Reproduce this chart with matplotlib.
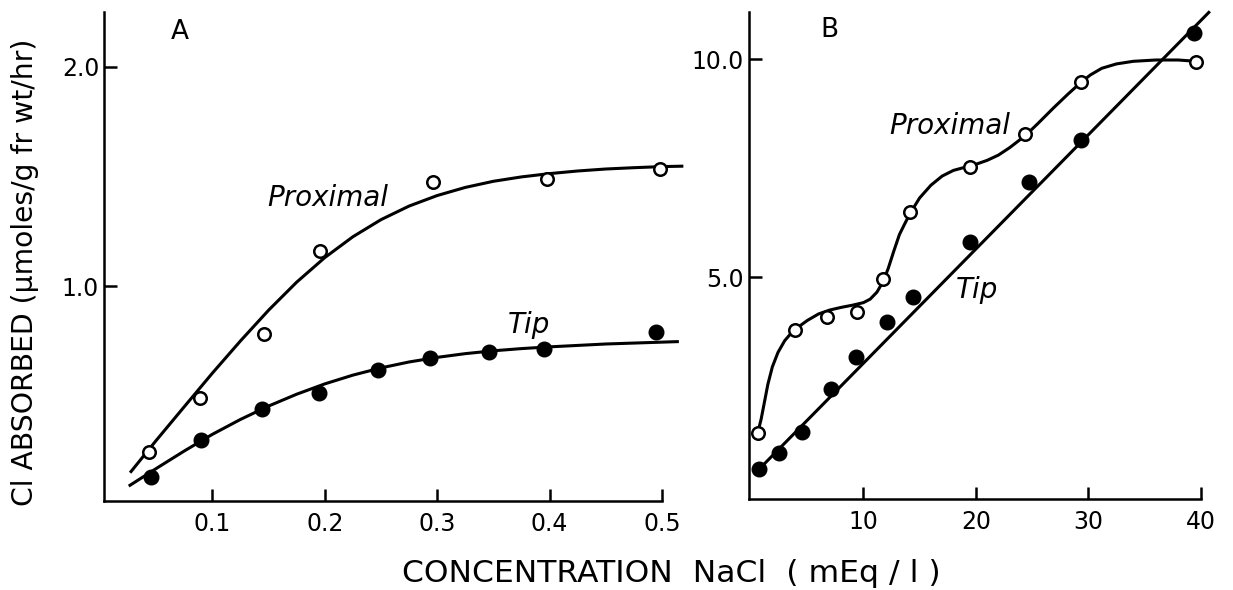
import matplotlib
matplotlib.use('Agg')
import matplotlib.pyplot as plt

plt.rcParams['font.family'] = ['DejaVu Sans']

# ---------------- Data: panel A (concentration 0-0.5 mEq/l) ----------------
a_prox_x = [0.044, 0.089, 0.146, 0.196, 0.296, 0.398, 0.4985]
a_prox_y = [0.244, 0.488, 0.780, 1.160, 1.474, 1.488, 1.534]
a_tip_x = [0.045, 0.090, 0.1446, 0.195, 0.247, 0.294, 0.346, 0.395, 0.495]
a_tip_y = [0.128, 0.298, 0.438, 0.513, 0.617, 0.673, 0.698, 0.711, 0.789]

# hand-drawn curves in panel A
a_prox_curve_x = [0.0268, 0.05, 0.075, 0.10, 0.125, 0.15, 0.175, 0.20, 0.225,
                  0.25, 0.275, 0.30, 0.325, 0.35, 0.375, 0.40, 0.425, 0.45,
                  0.475, 0.50, 0.519]
a_prox_curve_y = [0.149, 0.296, 0.450, 0.603, 0.750, 0.890, 1.018, 1.130, 1.225,
                  1.303, 1.365, 1.413, 1.450, 1.478, 1.498, 1.513, 1.525, 1.534,
                  1.540, 1.545, 1.547]
a_tip_curve_x = [0.0256, 0.05, 0.075, 0.10, 0.125, 0.15, 0.175, 0.20, 0.225,
                 0.25, 0.275, 0.30, 0.325, 0.35, 0.375, 0.40, 0.45, 0.515]
a_tip_curve_y = [0.088, 0.168, 0.248, 0.324, 0.392, 0.453, 0.507, 0.554, 0.594,
                 0.627, 0.654, 0.675, 0.692, 0.705, 0.715, 0.723, 0.736, 0.747]

# ---------------- Data: panel B (concentration 0-40 mEq/l) ----------------
b_prox_x = [0.6, 3.91, 6.79, 9.40, 11.74, 14.16, 19.46, 24.41, 29.36, 39.62]
b_prox_y = [1.44, 3.79, 4.08, 4.21, 4.96, 6.49, 7.53, 8.28, 9.47, 9.93]
b_tip_x = [0.74, 2.46, 4.51, 7.09, 9.31, 12.07, 14.44, 19.46, 24.73, 29.33, 39.39]
b_tip_y = [0.60, 0.97, 1.45, 2.44, 3.18, 3.98, 4.56, 5.80, 7.18, 8.14, 10.59]

b_prox_curve_x = [0.6, 0.9, 1.2, 1.5, 1.9, 2.4, 3.0, 3.6, 4.2, 5.0, 6.0, 7.0,
                  8.0, 9.0, 10.0, 10.6, 11.2, 11.74, 12.2, 12.7, 13.2, 13.7,
                  14.16, 15.0, 16.0, 17.0, 18.0, 19.0, 20.0, 21.0, 22.0, 23.0,
                  24.41, 25.5, 26.9, 28.2, 29.36, 30.2, 31.2, 32.5, 34.0, 36.0,
                  38.0, 39.62]
b_prox_curve_y = [1.44, 1.75, 2.15, 2.55, 2.95, 3.28, 3.55, 3.73, 3.86, 4.01,
                  4.16, 4.25, 4.31, 4.36, 4.42, 4.50, 4.66, 4.90, 5.20, 5.60,
                  5.98, 6.24, 6.47, 6.82, 7.11, 7.32, 7.45, 7.52, 7.59, 7.68,
                  7.80, 7.97, 8.25, 8.52, 8.88, 9.20, 9.47, 9.64, 9.79, 9.89,
                  9.95, 9.98, 9.98, 9.95]
b_tip_line_x = [0.40, 40.72]
b_tip_line_y = [0.52, 11.07]

a_xticks = [0.1, 0.2, 0.3, 0.4, 0.5]
a_xticklabels = ['0.1', '0.2', '0.3', '0.4', '0.5']
a_yticks = [1.0, 2.0]
a_yticklabels = ['1.0', '2.0']
b_xticks = [10, 20, 30, 40]
b_xticklabels = ['10', '20', '30', '40']
b_yticks = [5.0, 10.0]
b_yticklabels = ['5.0', '10.0']

# ---------------- Figure ----------------
W, H = 1233, 590
fig = plt.figure(figsize=(W / 100, H / 100), dpi=100)


def rect(l, r, b, t):
    return [l / W, 1 - b / H, (r - l) / W, (b - t) / H]


axA = fig.add_axes(rect(104, 662, 501, 12))
axB = fig.add_axes(rect(749, 1200.7, 499, 12))

LW = 2.2
for ax in (axA, axB):
    for s in ('top', 'right'):
        ax.spines[s].set_visible(False)
    for s in ('left', 'bottom'):
        ax.spines[s].set_linewidth(1.8)
    ax.tick_params(direction='in', length=9, width=1.8, labelsize=17)
    ax.tick_params(axis='y', pad=3.5)
    ax.tick_params(axis='x', pad=8)

# Panel A
axA.plot(a_prox_curve_x, a_prox_curve_y, color='black', lw=LW, clip_on=False,
         solid_capstyle='butt')
axA.plot(a_tip_curve_x, a_tip_curve_y, color='black', lw=LW, clip_on=False,
         solid_capstyle='butt')
axA.plot(a_prox_x, a_prox_y, 'o', ms=9, mfc='white', mec='black', mew=1.8,
         clip_on=False, zorder=3)
axA.plot(a_tip_x, a_tip_y, 'o', ms=10.5, mfc='black', mec='black',
         clip_on=False, zorder=3)
axA.set_xlim(0.0036, 0.5)
axA.set_ylim(0.02, 2.25)
axA.set_xticks(a_xticks, a_xticklabels)
axA.set_yticks(a_yticks, a_yticklabels)
axA.text(0.0714, 2.16, 'A', fontsize=19, fontweight='medium', ha='center', va='center')
axA.text(0.149, 1.40, 'Proximal', fontsize=20, style='italic', ha='left', va='center')
axA.text(0.3625, 0.822, 'Tip', fontsize=20, style='italic', ha='left', va='center')

# Panel B
axB.plot(b_prox_curve_x, b_prox_curve_y, color='black', lw=LW, clip_on=False,
         solid_joinstyle='round')
axB.plot(b_tip_line_x, b_tip_line_y, color='black', lw=LW, clip_on=False)
axB.plot(b_prox_x, b_prox_y, 'o', ms=9, mfc='white', mec='black', mew=1.8,
         clip_on=False, zorder=3)
axB.plot(b_tip_x, b_tip_y, 'o', ms=10.5, mfc='black', mec='black',
         clip_on=False, zorder=3)
axB.set_xlim(-0.18, 40)
axB.set_ylim(-0.08, 11.08)
axB.set_xticks(b_xticks, b_xticklabels)
axB.set_yticks(b_yticks, b_yticklabels)
axB.text(6.95, 10.66, 'B', fontsize=19, fontweight='medium', ha='center', va='center')
axB.text(12.28, 8.47, 'Proximal', fontsize=20, style='italic', ha='left', va='center')
axB.text(18.24, 4.71, 'Tip', fontsize=20, style='italic', ha='left', va='center')

fig.text(25 / W, 1 - 272 / H, 'Cl ABSORBED (\u03bcmoles/g fr wt/hr)', rotation=90,
         fontsize=20.3, ha='center', va='center')
fig.text(671 / W, 1 - 573 / H, 'CONCENTRATION  NaCl  ( mEq / l )', fontsize=22.6,
         ha='center', va='center')

fig.savefig('out.png', dpi=100)
